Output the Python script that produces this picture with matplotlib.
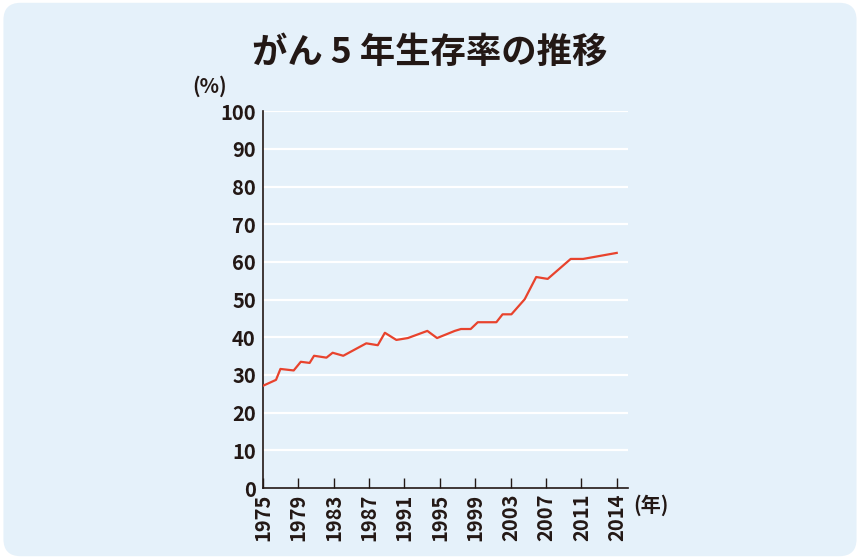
import matplotlib
matplotlib.use("Agg")
import matplotlib.pyplot as plt
from matplotlib.patches import FancyBboxPatch

plt.rcParams['font.family'] = ['Noto Sans CJK JP', 'DejaVu Sans']

# data (year positions on the axis scale)
years = [1975.0, 1976.5, 1977.0, 1978.5, 1979.3, 1980.3, 1980.8, 1982.2, 1982.9, 1984.1,
         1986.7, 1988.0, 1988.8, 1990.1, 1991.4, 1993.6, 1994.7, 1996.7, 1997.4, 1998.5,
         1999.3, 2001.4, 2002.1, 2003.1, 2004.6, 2005.9, 2007.2, 2009.8, 2011.2, 2015.0]
survival = [27.1, 28.7, 31.6, 31.2, 33.5, 33.2, 35.1, 34.6, 35.9, 35.1,
            38.4, 37.9, 41.2, 39.3, 39.8, 41.7, 39.8, 41.7, 42.2, 42.2,
            44.0, 44.0, 46.1, 46.1, 50.1, 56.0, 55.5, 60.8, 60.8, 62.4]
tick_pos = [1975, 1979, 1983, 1987, 1991, 1995, 1999, 2003, 2007, 2011, 2015]
tick_labels = ['1975', '1979', '1983', '1987', '1991', '1995', '1999', '2003', '2007', '2011', '2014']
y_ticks = [0, 10, 20, 30, 40, 50, 60, 70, 80, 90, 100]

bg = '#e5f1fa'
dark = '#231815'

fig = plt.figure(figsize=(8.6, 5.59), dpi=100)
fig.patch.set_facecolor('white')
box = FancyBboxPatch((0.004, 0.005), 0.992, 0.99, boxstyle='round,pad=0,rounding_size=0.02',
                     transform=fig.transFigure, facecolor=bg, edgecolor='none', zorder=-1,
                     mutation_aspect=860 / 559)
fig.patches.append(box)

ax = fig.add_axes([0.3055, 0.127, 0.425, 0.674])
ax.set_facecolor(bg)
for y in y_ticks[1:]:
    ax.axhline(y, color='white', lw=1.6, zorder=1)
ax.plot(years, survival, color='#e8432d', lw=1.6, zorder=3)

ax.set_xlim(1975, 2016.3)
ax.set_ylim(0, 100)
ax.set_yticks(y_ticks)
ax.set_yticklabels([str(v) for v in y_ticks], fontsize=14.5, fontweight='bold', color=dark)
ax.set_xticks(tick_pos)
ax.set_xticklabels(tick_labels, rotation=90, fontsize=14.5, fontweight='bold', color=dark)
ax.tick_params(axis='y', length=0, pad=5)
ax.tick_params(axis='x', direction='in', length=7, width=1, color=dark, pad=4)
for s in ['top', 'right']:
    ax.spines[s].set_visible(False)
for s in ['left', 'bottom']:
    ax.spines[s].set_color(dark)
    ax.spines[s].set_linewidth(1.2)

fig.text(0.5, 0.906, 'がん 5 年生存率の推移', ha='center', va='center',
         fontsize=25.5, fontweight='bold', color=dark)
fig.text(0.244, 0.846, '(%)', ha='center', va='center', fontsize=14.5,
         fontweight='bold', color=dark)
fig.text(0.757, 0.097, '(年)', ha='center', va='center', fontsize=14.5,
         fontweight='bold', color=dark)

fig.savefig('out.png', dpi=100, facecolor='white')
